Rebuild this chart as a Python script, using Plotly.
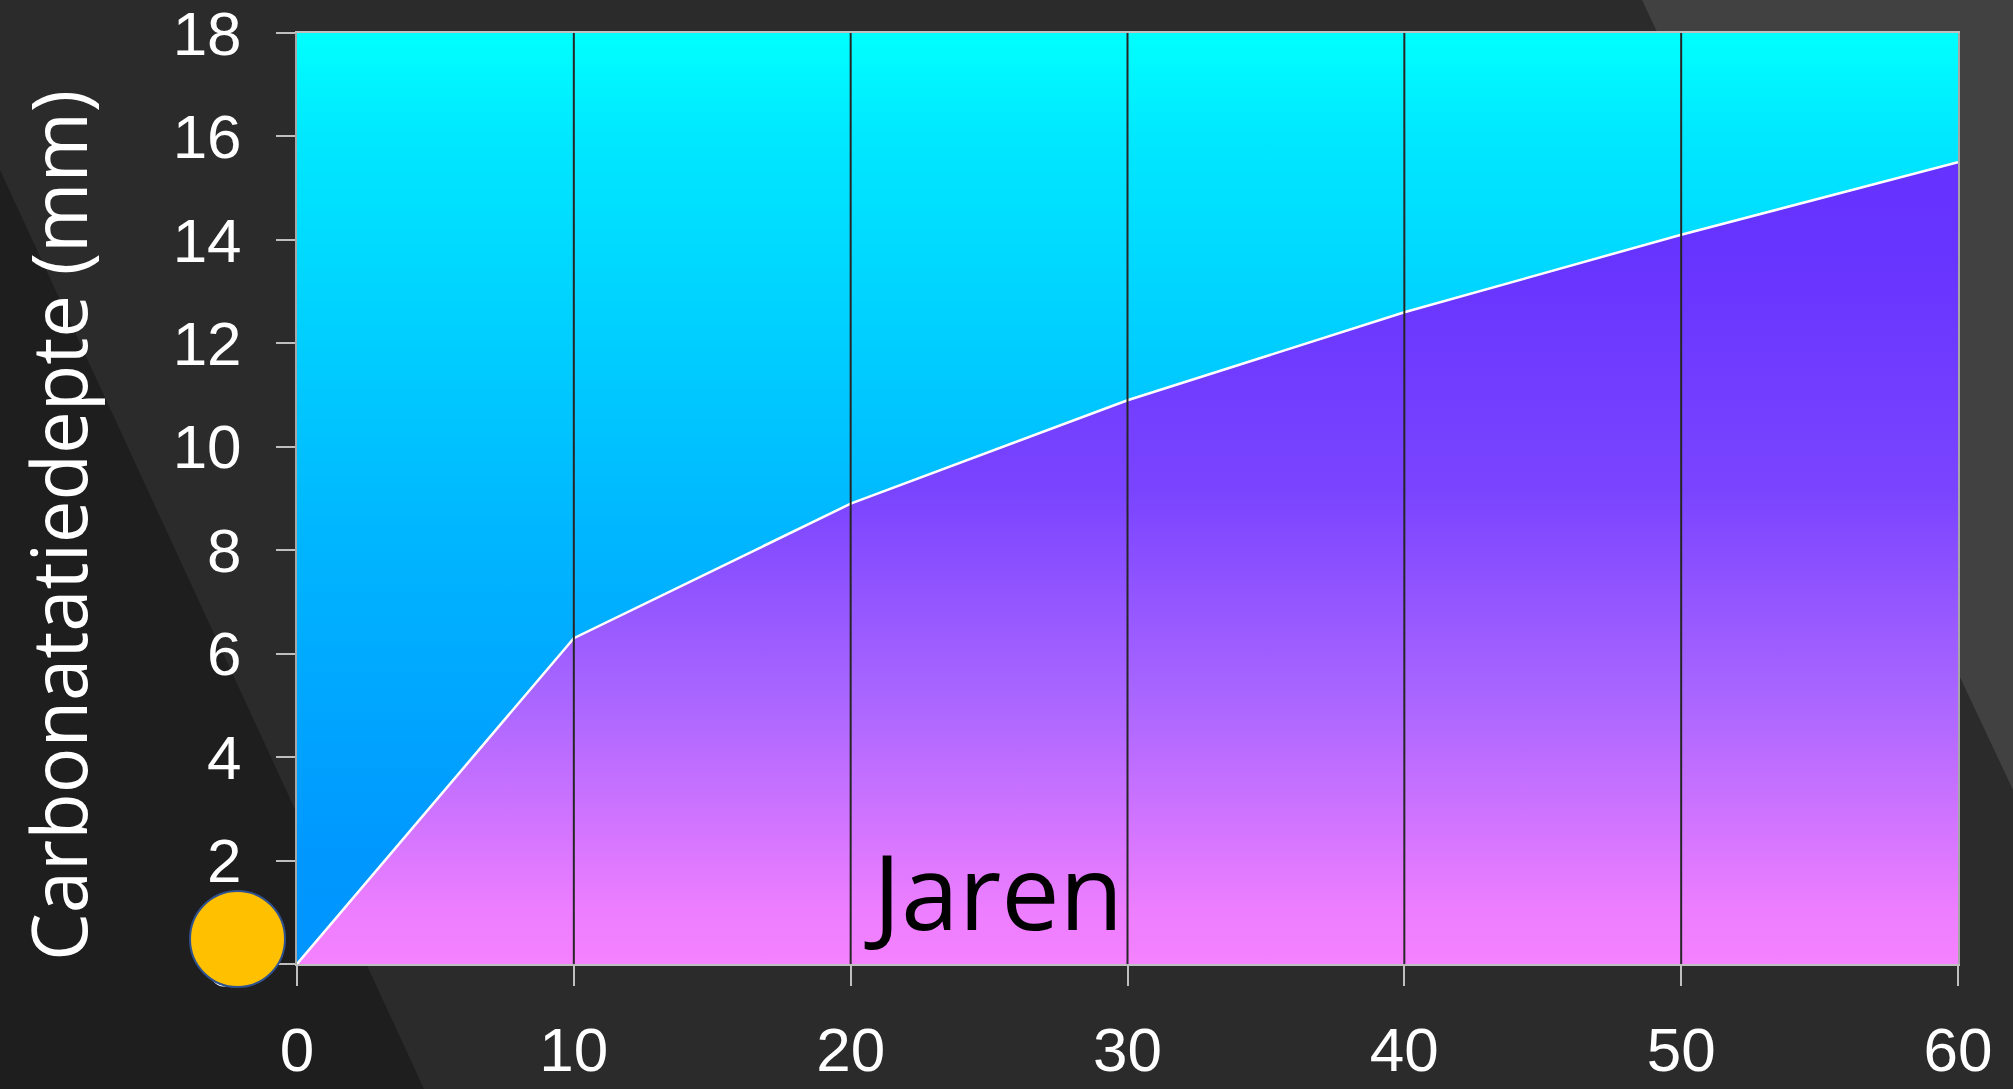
import plotly.graph_objects as go

# ---- data ----
years = [0, 10, 20, 30, 40, 50, 60]
depth_mm = [0, 6.3, 8.9, 10.9, 12.6, 14.1, 15.5]
x_ticks = [0, 10, 20, 30, 40, 50, 60]
y_ticks = [0, 2, 4, 6, 8, 10, 12, 14, 16, 18]
y_max = 18
y_title = "Carbonatatiedepte (mm)"
x_label = "Jaren"

W, H = 2013, 1089
L, R, T, B = 297, 55, 33, 125
PW, PH = W - L - R, H - T - B


def px(xp):
    return (xp - L) / PW


def py(yp):
    return (H - B - yp) / PH


fig = go.Figure()

# lower (carbonated) region
fig.add_trace(go.Scatter(
    x=years, y=depth_mm, mode="lines", fill="tozeroy",
    line=dict(width=0, color="rgba(0,0,0,0)"),
    fillgradient=dict(
        type="vertical", start=0, stop=max(depth_mm),
        colorscale=[[0, "#F582FF"], [0.07, "#EC7EFF"], [0.33, "#AA66FF"],
                    [0.59, "#7A44FF"], [0.9, "#6633FF"], [1, "#6532FF"]]),
    hoverinfo="skip", showlegend=False))

# upper region
fig.add_trace(go.Scatter(
    x=years, y=[y_max] * len(years), mode="lines", fill="tonexty",
    line=dict(width=0, color="rgba(0,0,0,0)"),
    fillgradient=dict(
        type="vertical", start=0, stop=y_max,
        colorscale=[[0, "#0094FF"], [0.12, "#0098FF"], [0.46, "#00B6FF"],
                    [0.89, "#00E8FF"], [1, "#00FFFF"]]),
    hoverinfo="skip", showlegend=False))

# boundary line
fig.add_trace(go.Scatter(
    x=years, y=depth_mm, mode="lines",
    line=dict(width=2.5, color="white"),
    showlegend=False))

shapes = []
# background stripes
shapes.append(dict(type="path", xref="paper", yref="paper", layer="below",
                   path=f"M {px(0)} {py(170)} L {px(424)} {py(1089)} L {px(0)} {py(1089)} Z",
                   fillcolor="#1e1e1e", line=dict(width=0)))
shapes.append(dict(type="path", xref="paper", yref="paper", layer="below",
                   path=f"M {px(1642)} {py(0)} L {px(2013)} {py(0)} L {px(2013)} {py(790)} Z",
                   fillcolor="#414141", line=dict(width=0)))
# vertical grid lines (above fills)
for v in x_ticks[1:-1]:
    shapes.append(dict(type="line", xref="x", yref="paper", x0=v, x1=v, y0=0, y1=1,
                       layer="above", line=dict(color="#262626", width=2)))
# yellow dot
shapes.append(dict(type="circle", xref="paper", yref="paper",
                   x0=px(190), x1=px(285), y0=py(987), y1=py(891),
                   fillcolor="#FFC000", line=dict(color="#2F528F", width=2), layer="above"))

tickfont = dict(family="Liberation Sans, Arial", size=62, color="white")

fig.update_layout(
    width=W, height=H,
    margin=dict(l=L, r=R, t=T, b=B, autoexpand=False),
    paper_bgcolor="#2b2b2b", plot_bgcolor="#2b2b2b",
    shapes=shapes,
    xaxis=dict(range=[0, 60], tickvals=x_ticks, showgrid=False, zeroline=False,
               showline=True, linecolor="#bfbfbf", linewidth=2, mirror=True,
               ticks="outside", ticklen=20, tickwidth=2, tickcolor="#bfbfbf",
               tickfont=tickfont, ticklabelstandoff=11, layer="above traces",
               automargin=False, ticklabeloverflow="allow"),
    yaxis=dict(range=[0, y_max], tickvals=y_ticks, showgrid=False, zeroline=False,
               showline=True, linecolor="#a6a6a6", linewidth=2, mirror=True,
               ticks="outside", ticklen=19, tickwidth=2, tickcolor="#bfbfbf",
               tickfont=tickfont, ticklabelstandoff=22, layer="above traces",
               automargin=False, ticklabeloverflow="allow"),
    annotations=[
        dict(text=y_title, xref="paper", yref="paper", x=px(57), y=py(526),
             xanchor="center", yanchor="middle", textangle=-90, showarrow=False,
             font=dict(family="Open Sans", size=76, color="white")),
        dict(text=x_label, xref="paper", yref="paper", x=px(993), y=py(889),
             xanchor="center", yanchor="middle", showarrow=False,
             font=dict(family="Open Sans", size=104, color="black")),
    ],
)

fig.write_html("out.html")
